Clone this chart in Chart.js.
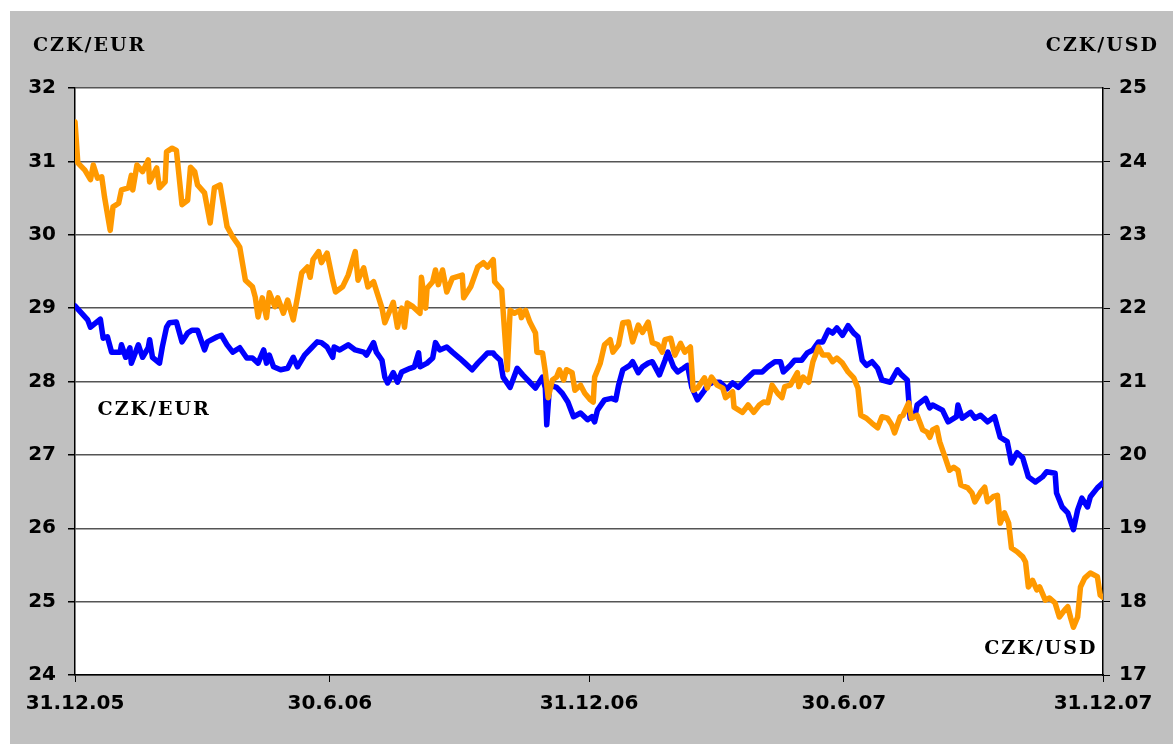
<!DOCTYPE html>
<html>
<head>
<meta charset="utf-8">
<script src="https://cdn.jsdelivr.net/npm/chart.js@4"></script>
<style>
  body { margin: 0; background: #fff; }
  canvas { display: block; }
</style>
</head>
<body>
<canvas id="fxChart" width="1173" height="744"></canvas>
<script>
// ---------- DATA ----------
// days since 31.12.05
const tickDays = [0, 181, 365, 546, 730];
const tickLabels = ['31.12.05', '30.6.06', '31.12.06', '30.6.07', '31.12.07'];

const eurDays = [0,9,11,18,20,23,26,32,33,36,39,40,45,48,52,53,55,60,62,65,67,72,76,80,83,87,92,94,101,104,
  108,112,117,122,126,130,134,136,138,141,146,151,155,158,163,168,172,175,179,183,184,188,194,199,205,207,212,214,218,220,
  222,226,229,232,238,241,244,245,250,254,256,259,264,268,273,277,282,286,290,293,297,298,302,304,309,314,318,323,327,332,
  334,335,337,342,346,350,354,359,364,367,369,371,376,381,384,386,389,394,396,400,403,407,410,415,419,421,425,428,432,435,
  438,442,447,449,453,458,463,467,471,476,482,488,492,497,501,503,508,511,516,520,524,528,531,535,538,541,545,549,553,556,
  559,562,566,570,573,579,584,587,591,593,597,598,604,607,609,616,620,626,627,630,636,639,643,648,653,657,662,665,669,673,
  677,682,687,690,696,697,701,705,709,712,715,719,721,726,730];
const eurRates = [29.03,28.84,28.74,28.85,28.59,28.61,28.40,28.40,28.50,28.33,28.46,28.25,28.50,28.33,28.46,28.57,28.33,28.25,28.47,28.74,
  28.80,28.81,28.54,28.66,28.70,28.70,28.43,28.54,28.61,28.63,28.50,28.40,28.46,28.32,28.32,28.25,28.43,28.25,28.36,28.20,
  28.16,28.18,28.33,28.20,28.36,28.46,28.54,28.53,28.47,28.33,28.47,28.43,28.50,28.43,28.40,28.36,28.53,28.40,28.29,28.06,
  27.98,28.12,27.99,28.13,28.18,28.20,28.39,28.20,28.25,28.32,28.53,28.43,28.47,28.40,28.32,28.25,28.16,28.25,28.33,28.39,
  28.39,28.36,28.29,28.06,27.92,28.18,28.09,27.99,27.91,28.06,27.91,27.41,27.95,27.92,27.84,27.72,27.52,27.57,27.48,27.52,
  27.45,27.61,27.75,27.77,27.75,27.95,28.16,28.22,28.27,28.12,28.20,28.25,28.27,28.09,28.29,28.40,28.20,28.13,28.18,28.22,
  27.92,27.75,27.88,27.95,27.99,27.99,27.90,27.98,27.92,28.02,28.13,28.13,28.20,28.27,28.27,28.13,28.22,28.29,28.29,28.39,
  28.43,28.54,28.54,28.70,28.66,28.73,28.63,28.76,28.66,28.61,28.29,28.22,28.27,28.18,28.02,27.99,28.16,28.09,28.02,27.50,
  27.58,27.68,27.77,27.64,27.68,27.61,27.45,27.52,27.68,27.50,27.58,27.50,27.54,27.45,27.52,27.24,27.18,26.89,27.03,26.96,
  26.70,26.63,26.70,26.77,26.75,26.48,26.29,26.21,25.98,26.25,26.41,26.29,26.43,26.55,26.62];

const usdDays = [0,2,7,11,13,16,19,21,25,27,31,33,38,40,41,44,48,52,53,58,60,64,65,69,72,76,80,82,85,87,
  92,96,99,103,108,112,115,117,121,126,128,130,133,136,138,142,144,148,151,155,158,161,165,167,169,173,175,179,183,185,
  190,194,199,201,205,208,212,215,218,220,226,229,232,234,236,240,245,246,249,250,254,256,258,261,264,268,275,276,281,286,
  290,293,297,298,303,304,307,309,312,316,317,320,323,327,328,332,334,336,339,342,344,347,349,353,355,359,362,366,368,369,
  373,376,380,382,386,389,393,396,400,403,407,410,414,417,419,423,426,430,433,437,439,442,447,449,452,456,460,462,467,468,
  474,478,482,486,489,492,495,499,502,504,508,513,514,517,521,524,528,531,535,538,541,545,549,553,556,558,562,566,570,573,
  577,580,582,586,588,592,594,598,602,605,607,609,612,614,618,621,624,627,629,634,637,639,643,646,648,652,655,657,660,663,
  665,669,673,675,677,680,683,685,689,692,696,699,703,705,707,709,712,714,717,721,726,728,730];
const usdRates = [24.54,23.98,23.88,23.75,23.95,23.77,23.79,23.51,23.06,23.38,23.43,23.61,23.64,23.81,23.61,23.95,23.86,24.02,23.72,23.91,
  23.64,23.72,24.13,24.18,24.15,23.41,23.47,23.92,23.86,23.68,23.57,23.16,23.64,23.68,23.11,22.97,22.89,22.83,22.38,22.29,
  22.15,21.88,22.14,21.87,22.21,22.02,22.14,21.93,22.11,21.84,22.15,22.48,22.56,22.42,22.66,22.77,22.62,22.75,22.38,22.22,
  22.29,22.45,22.77,22.38,22.55,22.29,22.36,22.18,22.00,21.80,22.08,21.74,22.00,21.74,22.07,22.02,21.93,22.42,22.00,22.27,
  22.36,22.52,22.32,22.52,22.22,22.41,22.45,22.14,22.29,22.56,22.62,22.56,22.66,22.36,22.25,21.97,21.16,21.97,21.93,21.97,
  21.87,21.97,21.81,21.66,21.40,21.39,21.13,20.78,21.02,21.06,21.16,21.02,21.16,21.12,20.88,20.95,20.84,20.75,20.72,21.06,
  21.25,21.50,21.57,21.40,21.50,21.80,21.81,21.54,21.77,21.67,21.81,21.53,21.50,21.40,21.57,21.59,21.36,21.52,21.40,21.47,
  20.88,20.91,21.05,20.91,21.06,20.95,20.91,20.78,20.86,20.65,20.58,20.68,20.58,20.68,20.72,20.71,20.95,20.84,20.78,20.93,
  20.95,21.12,20.93,21.06,20.99,21.27,21.47,21.36,21.36,21.27,21.32,21.25,21.13,21.05,20.91,20.54,20.50,20.43,20.37,20.52,
  20.50,20.41,20.30,20.52,20.54,20.71,20.50,20.54,20.34,20.31,20.24,20.34,20.37,20.18,19.96,19.79,19.83,19.79,19.59,19.55,
  19.48,19.36,19.49,19.56,19.36,19.43,19.45,19.07,19.21,19.07,18.73,18.68,18.61,18.54,18.20,18.29,18.16,18.20,18.02,18.05,
  17.98,17.79,17.89,17.93,17.78,17.65,17.79,18.20,18.32,18.39,18.34,18.09,18.06];

// ---------- STYLE ----------
const tickFont = { family: 'DejaVu Sans', size: 20, weight: 'bold' };
const labelFont = 'bold 19px "DejaVu Serif"';

// background: white strip, gray frame, white plot area
const backgroundPlugin = {
    id: 'background',
    beforeDraw(chart) {
        const { ctx, chartArea: a } = chart;
        ctx.save();
        ctx.fillStyle = '#ffffff';
        ctx.fillRect(0, 0, chart.width, chart.height);
        ctx.fillStyle = '#c0c0c0';
        ctx.fillRect(10, 11, chart.width - 10, chart.height - 11);
        ctx.fillStyle = '#ffffff';
        ctx.fillRect(a.left, a.top, a.right - a.left, a.bottom - a.top);
        ctx.restore();
    }
};

// axis titles and series names
const labelsPlugin = {
    id: 'seriesLabels',
    afterDraw(chart) {
        const { ctx, chartArea: a, scales } = chart;
        ctx.save();
        ctx.font = labelFont;
        ctx.letterSpacing = '2px';
        ctx.fillStyle = '#000';
        ctx.textBaseline = 'alphabetic';

        ctx.textAlign = 'left';
        ctx.fillText('CZK/EUR', a.left - 42, a.top - 37);
        ctx.fillText('CZK/EUR', scales.x.getPixelForValue(16), scales.y.getPixelForValue(27.55));

        ctx.textAlign = 'right';
        ctx.fillText('CZK/USD', chart.width - 14, a.top - 37);
        ctx.fillText('CZK/USD', scales.x.getPixelForValue(726), scales.y2.getPixelForValue(17.29));
        ctx.restore();
    }
};

const ctx = document.getElementById('fxChart').getContext('2d');

new Chart(ctx, {
    type: 'line',
    data: {
        datasets: [
            {
                label: 'CZK/EUR',
                data: eurDays.map((d, i) => ({ x: d, y: eurRates[i] })),
                yAxisID: 'y',
                borderColor: '#0000ff',
                borderWidth: 5.5,
                order: 1
            },
            {
                label: 'CZK/USD',
                data: usdDays.map((d, i) => ({ x: d, y: usdRates[i] })),
                yAxisID: 'y2',
                borderColor: '#ff9900',
                borderWidth: 5.5,
                order: 0
            }
        ]
    },
    options: {
        responsive: false,
        devicePixelRatio: 1,
        animation: false,
        layout: { padding: { top: 88, left: 0, right: 0, bottom: 0 } },
        elements: {
            point: { radius: 0 },
            line: { tension: 0, borderJoinStyle: 'round', borderCapStyle: 'round' }
        },
        plugins: {
            legend: { display: false },
            tooltip: { enabled: false }
        },
        scales: {
            x: {
                type: 'linear',
                min: 0,
                max: 730,
                afterBuildTicks: scale => { scale.ticks = tickDays.map(v => ({ value: v })); },
                afterFit: scale => { scale.height = 69; },
                ticks: {
                    autoSkip: false,
                    maxRotation: 0,
                    padding: 10,
                    color: '#000',
                    font: tickFont,
                    callback: value => tickLabels[tickDays.indexOf(value)]
                },
                grid: { drawOnChartArea: false, tickLength: 7, tickColor: '#000' },
                border: { color: '#000', width: 1.5 }
            },
            y: {
                position: 'left',
                min: 24,
                max: 32,
                afterFit: scale => { scale.width = 75; },
                ticks: { stepSize: 1, padding: 12, color: '#000', font: tickFont },
                grid: { color: '#555', lineWidth: 1.5, tickLength: 7, tickColor: '#000' },
                border: { color: '#000', width: 1.5 }
            },
            y2: {
                position: 'right',
                min: 17,
                max: 25,
                afterFit: scale => { scale.width = 70; },
                ticks: { stepSize: 1, padding: 9, color: '#000', font: tickFont },
                grid: { drawOnChartArea: false, tickLength: 7, tickColor: '#000' },
                border: { color: '#000', width: 1.5 }
            }
        }
    },
    plugins: [backgroundPlugin, labelsPlugin]
});
</script>
</body>
</html>
